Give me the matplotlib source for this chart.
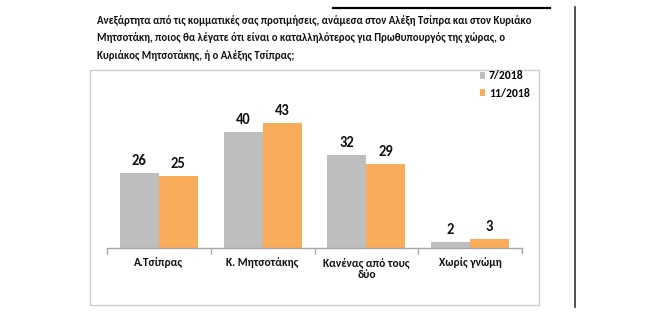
import matplotlib
matplotlib.use("Agg")
import matplotlib.pyplot as plt
from matplotlib import font_manager
from matplotlib.patches import Rectangle
from matplotlib.lines import Line2D
import numpy as np

installed = {f.name for f in font_manager.fontManager.ttflist}
preferred = [f for f in ("Carlito", "Roboto Condensed", "Open Sans") if f in installed]
main_font = preferred[0] if preferred else "DejaVu Sans"
plt.rcParams['font.family'] = [main_font, 'DejaVu Sans']

categories = ["Α.Τσίπρας", "Κ. Μητσοτάκης", "Κανένας από τους\nδύο", "Χωρίς γνώμη"]
series_names = ["7/2018", "11/2018"]
values_jul = [26, 40, 32, 2]
values_nov = [25, 43, 29, 3]
colors = ["#BEBEBE", "#F9AC5A"]

title = ("Ανεξάρτητα από τις κομματικές σας προτιμήσεις, ανάμεσα στον Αλέξη Τσίπρα και στον Κυριάκο\n"
         "Μητσοτάκη, ποιος θα λέγατε ότι είναι ο καταλληλότερος για Πρωθυπουργός της χώρας, ο\n"
         "Κυριάκος Μητσοτάκης, ή ο Αλέξης Τσίπρας;")

W, H = 659, 325
fig = plt.figure(figsize=(W / 100, H / 100), dpi=100)
fig.patch.set_facecolor("white")


def fx(px):
    return px / W


def fy(py):
    return 1 - py / H


# page decorations: top rule, right rule, chart frame
fig.add_artist(Line2D([fx(333), fx(550)], [fy(8), fy(8)], color="black", lw=1.6))
fig.add_artist(Line2D([fx(575), fx(575)], [fy(7), fy(307)], color="#333333", lw=1.2))
fig.add_artist(Rectangle((fx(90), fy(305)), fx(539) - fx(90), fy(70) - fy(305),
                         fill=False, edgecolor="#CFCFCF", lw=1.0))

fig.text(fx(97), fy(14.5), title, ha="left", va="top", fontsize=7.75,
         fontweight="bold", linespacing=1.74, color="#111111")

# plot area
ax_left, ax_right, ax_bottom, ax_top = 107, 522, 248, 100
ax = fig.add_axes([fx(ax_left), fy(ax_bottom), fx(ax_right) - fx(ax_left), fy(ax_top) - fy(ax_bottom)])
ax.set_xlim(0, len(categories))
ax.set_ylim(0, (ax_bottom - ax_top) / 2.9)

x = np.arange(len(categories)) + 0.5
bw = 0.375
bars1 = ax.bar(x - bw / 2, values_jul, bw, color=colors[0], label=series_names[0])
bars2 = ax.bar(x + bw / 2, values_nov, bw, color=colors[1], label=series_names[1])

for bars, vals in ((bars1, values_jul), (bars2, values_nov)):
    for b, v in zip(bars, vals):
        ax.annotate(str(v), (b.get_x() + b.get_width() / 2, v), xytext=(0, 3.5),
                    textcoords="offset points", ha="center", va="bottom",
                    fontsize=10.5, fontweight="bold", color="#111111")

for s in ("top", "right", "left"):
    ax.spines[s].set_visible(False)
ax.spines["bottom"].set_color("#A6A6A6")
ax.spines["bottom"].set_linewidth(1.0)
ax.set_yticks([])
ax.set_xticks(np.arange(len(categories) + 1))
ax.set_xticklabels([])
ax.tick_params(axis="x", length=4, color="#A6A6A6", width=1.0)
ax.set_xticks(x, minor=True)
ax.set_xticklabels(categories, minor=True, fontsize=8.2, fontweight="bold", color="#111111",
                   linespacing=1.15, va="top")
ax.tick_params(axis="x", which="minor", length=0, pad=6.5)

leg = fig.legend(handles=[bars1, bars2], labels=series_names, loc="upper left",
                 bbox_to_anchor=(fx(469), fy(60)), frameon=False,
                 handlelength=0.5, handleheight=0.5, handletextpad=0.3,
                 labelspacing=0.55, prop={"weight": "bold", "size": 8.4})

fig.savefig("out.png", dpi=100, facecolor="white")
